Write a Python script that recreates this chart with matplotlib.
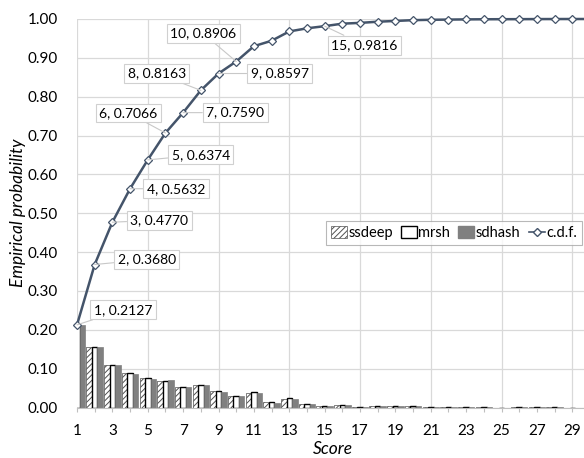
import numpy as np
import matplotlib.pyplot as plt
import matplotlib as mpl
from matplotlib.lines import Line2D
from matplotlib.patches import Patch

# ==========================================
# style
# ==========================================
mpl.rcParams.update({
    "font.family": ["Lato", "DejaVu Sans"],
    "font.size": 10.5,
    "hatch.linewidth": 0.7,
    "figure.dpi": 100,
})

# ==========================================
# data
# ==========================================
scores = np.arange(1, 31)
cdf = [0.2127, 0.3680, 0.4770, 0.5632, 0.6374, 0.7066, 0.7590, 0.8163, 0.8597, 0.8906,
       0.9300, 0.9440, 0.9680, 0.9760, 0.9816, 0.9880, 0.9900, 0.9930, 0.9950, 0.9970,
       0.9980, 0.9985, 0.9990, 0.9993, 0.9995, 0.9996, 0.9998, 0.9999, 1.0000, 1.0000]
ssdeep = [0.213, 0.157, 0.110, 0.088, 0.075, 0.069, 0.053, 0.058, 0.042, 0.030,
          0.038, 0.013, 0.023, 0.008, 0.005, 0.007, 0.001, 0.004, 0.004, 0.003,
          0.001, 0.001, 0.001, 0.001, 0.000, 0.001, 0.001, 0.0005, 0.000, 0.000]
mrsh = [0.213, 0.157, 0.110, 0.088, 0.076, 0.069, 0.053, 0.059, 0.042, 0.030,
        0.039, 0.013, 0.024, 0.008, 0.005, 0.007, 0.001, 0.004, 0.004, 0.003,
        0.001, 0.001, 0.001, 0.001, 0.000, 0.001, 0.001, 0.0005, 0.000, 0.000]
sdhash = [0.212, 0.156, 0.110, 0.087, 0.074, 0.070, 0.052, 0.057, 0.041, 0.029,
          0.038, 0.012, 0.023, 0.008, 0.005, 0.007, 0.001, 0.004, 0.004, 0.003,
          0.001, 0.001, 0.001, 0.001, 0.000, 0.001, 0.001, 0.0005, 0.000, 0.000]
labelled = [1, 2, 3, 4, 5, 6, 7, 8, 9, 10, 15]
# label box offsets from the point, in pixels (dx, dy up)
label_offsets = {1: (46, 15), 2: (52, 5), 3: (47, 2), 4: (46, 0), 5: (53, 5),
                 6: (-37, 20), 7: (52, 0), 8: (-44, 17), 9: (61, 0), 10: (-33, 28),
                 15: (40, -19)}

line_col = "#44546A"
grid_col = "#D9D9D9"

fig = plt.figure(figsize=(5.84, 4.58))
ax = fig.add_axes([77 / 584, 1 - 407.5 / 458, 513 / 584, 388.5 / 458])

# --- bars ---
w = 0.31
ax.bar(scores - w, ssdeep, w, facecolor="white", edgecolor="#505050", hatch="//////",
       lw=0.5, zorder=2)
ax.bar(scores, mrsh, w, facecolor="white", edgecolor="black", lw=1.0, zorder=2)
ax.bar(scores + w, sdhash, w, facecolor="#808080", edgecolor="#808080", lw=0.5, zorder=2)

# --- cdf line ---
ax.plot(scores, cdf, color=line_col, lw=1.8, marker="D", ms=4.5, mfc="white",
        mec=line_col, mew=0.9, zorder=4, clip_on=False)

for s in labelled:
    v = cdf[s - 1]
    dx, dy = label_offsets[s]
    ax.annotate(f"{s}, {v:.4f}", xy=(s, v), xytext=(dx, dy), textcoords="offset pixels",
                ha="center", va="center", fontsize=10, zorder=5,
                bbox=dict(boxstyle="square,pad=0.25", fc="white", ec="#D0D0D0", lw=0.8),
                arrowprops=dict(arrowstyle="-", color="#C8C8C8", lw=0.8,
                                shrinkA=0, shrinkB=0))

# --- axes ---
ax.set_xlim(1, 30)
ax.set_ylim(0, 1.0)
ax.set_yticks(np.arange(0, 1.01, 0.1))
ax.yaxis.set_major_formatter(mpl.ticker.FormatStrFormatter("%.2f"))
ax.set_xticks(scores)
ax.set_xticklabels([str(s) if s % 2 == 1 else "" for s in scores])
ax.tick_params(axis="y", length=0, pad=14, labelsize=11)
ax.tick_params(axis="x", length=3, color="#BFBFBF", pad=9, labelsize=11)
for sp in ["top", "right", "left"]:
    ax.spines[sp].set_visible(False)
ax.spines["bottom"].set_color("#BFBFBF")
ax.grid(axis="y", color=grid_col, lw=0.9, zorder=0)
for gx in range(1, 30, 4):
    ax.axvline(gx, color=grid_col, lw=0.9, zorder=0)
ax.set_axisbelow(True)

fig.text(18 / 584, 1 - 213 / 458, "Empirical probability", rotation=90, ha="center",
         va="center", fontsize=12.5, style="italic")
fig.text(333 / 584, 1 - 449 / 458, "Score", ha="center", va="center", fontsize=12.5,
         style="italic")

# --- legend ---
handles = [Patch(facecolor="white", edgecolor="#505050", hatch="//////", lw=0.5),
           Patch(facecolor="white", edgecolor="black", lw=1.0),
           Patch(facecolor="#808080", edgecolor="#808080"),
           Line2D([], [], color=line_col, lw=1.2, marker="D", ms=4, mfc="white",
                  mec=line_col)]
leg = fig.legend(handles, ["ssdeep", "mrsh", "sdhash", "c.d.f."], ncol=4,
                 loc="upper right", bbox_to_anchor=(582 / 584, 1 - 221 / 458),
                 frameon=True, fancybox=False, edgecolor="#A6A6A6", fontsize=10.5,
                 handlelength=1.1, handleheight=0.8, handletextpad=0.1,
                 columnspacing=0.55, borderpad=0.35, borderaxespad=0)
leg.get_frame().set_linewidth(0.8)

fig.savefig("out.png", dpi=100)
